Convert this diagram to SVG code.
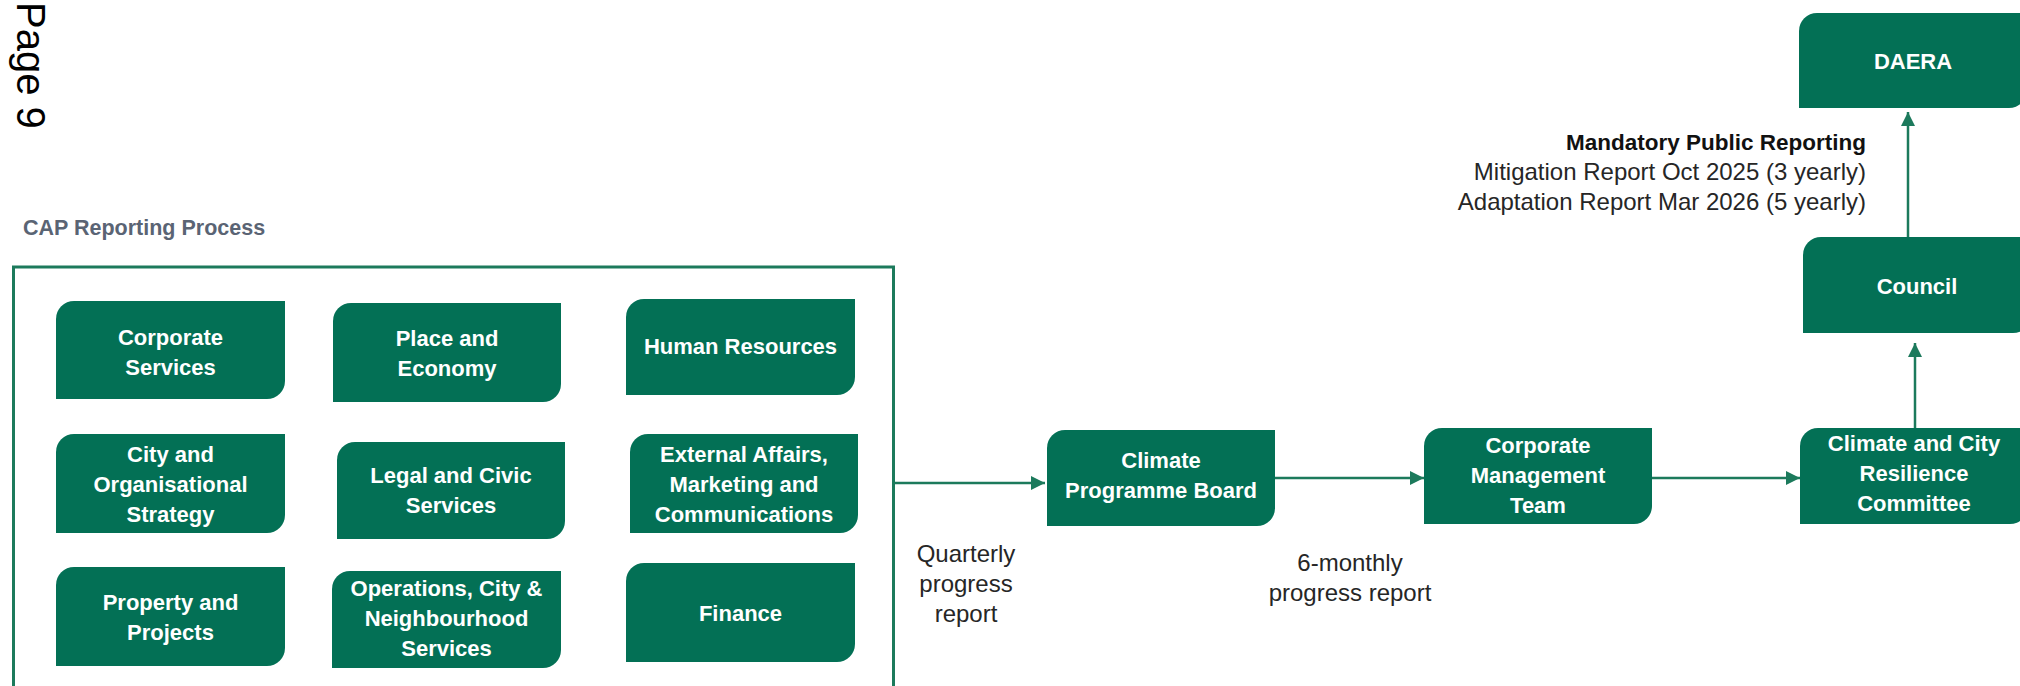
<svg xmlns="http://www.w3.org/2000/svg" width="2020" height="686" viewBox="0 0 2020 686">
<style>
.box{fill:#037055;}
.bt{font-family:"Liberation Sans",Arial,sans-serif;font-weight:bold;font-size:22px;fill:#ffffff;text-anchor:middle;}
.lbl{font-family:"Liberation Sans",Arial,sans-serif;font-size:24px;fill:#262626;text-anchor:middle;}
.conn{stroke:#1c7a5c;stroke-width:2.5;fill:none;}
</style>
<defs>
<marker id="arr" markerUnits="userSpaceOnUse" markerWidth="15" markerHeight="15" refX="14" refY="7" orient="auto">
<path d="M0,0 L14,7 L0,14 Z" fill="#1c7a5c"/>
</marker>
</defs>
<rect width="2020" height="686" fill="#ffffff"/>

<text id="page-number" transform="translate(17,2) rotate(90)" x="0" y="0" font-family="'Liberation Sans',Arial,sans-serif" font-size="40" fill="#000000">Page 9</text>

<text id="title" x="23" y="235" font-family="'Liberation Sans',Arial,sans-serif" font-size="21.5" font-weight="bold" fill="#5a6474">CAP Reporting Process</text>

<g id="cap-container">
<rect x="13.5" y="267" width="880" height="440" fill="none" stroke="#1c7a5c" stroke-width="3"/>
</g>

<g id="n-corporate-services">
<path class="box" d="M74,301 H285 V381 A18,18 0 0 1 267,399 H56 V319 A18,18 0 0 1 74,301 Z"/>
<text class="bt" x="170.5" y="345">Corporate</text>
<text class="bt" x="170.5" y="375">Services</text>
</g>
<g id="n-place-economy">
<path class="box" d="M351,303 H561 V384 A18,18 0 0 1 543,402 H333 V321 A18,18 0 0 1 351,303 Z"/>
<text class="bt" x="447" y="346">Place and</text>
<text class="bt" x="447" y="376">Economy</text>
</g>
<g id="n-human-resources">
<path class="box" d="M644,299 H855 V377 A18,18 0 0 1 837,395 H626 V317 A18,18 0 0 1 644,299 Z"/>
<text class="bt" x="740.5" y="354">Human Resources</text>
</g>

<g id="n-city-org-strategy">
<path class="box" d="M74,434 H285 V515 A18,18 0 0 1 267,533 H56 V452 A18,18 0 0 1 74,434 Z"/>
<text class="bt" x="170.5" y="462">City and</text>
<text class="bt" x="170.5" y="492">Organisational</text>
<text class="bt" x="170.5" y="522">Strategy</text>
</g>
<g id="n-legal-civic">
<path class="box" d="M355,442 H565 V521 A18,18 0 0 1 547,539 H337 V460 A18,18 0 0 1 355,442 Z"/>
<text class="bt" x="451" y="483">Legal and Civic</text>
<text class="bt" x="451" y="513">Services</text>
</g>
<g id="n-external-affairs">
<path class="box" d="M648,434 H858 V515 A18,18 0 0 1 840,533 H630 V452 A18,18 0 0 1 648,434 Z"/>
<text class="bt" x="744" y="462">External Affairs,</text>
<text class="bt" x="744" y="492">Marketing and</text>
<text class="bt" x="744" y="522">Communications</text>
</g>

<g id="n-property-projects">
<path class="box" d="M74,567 H285 V648 A18,18 0 0 1 267,666 H56 V585 A18,18 0 0 1 74,567 Z"/>
<text class="bt" x="170.5" y="610">Property and</text>
<text class="bt" x="170.5" y="640">Projects</text>
</g>
<g id="n-operations">
<path class="box" d="M350,571 H561 V650 A18,18 0 0 1 543,668 H332 V589 A18,18 0 0 1 350,571 Z"/>
<text class="bt" x="446.5" y="596">Operations, City &amp;</text>
<text class="bt" x="446.5" y="626">Neighbourhood</text>
<text class="bt" x="446.5" y="656">Services</text>
</g>
<g id="n-finance">
<path class="box" d="M644,563 H855 V644 A18,18 0 0 1 837,662 H626 V581 A18,18 0 0 1 644,563 Z"/>
<text class="bt" x="740.5" y="621">Finance</text>
</g>

<g id="n-climate-programme-board">
<path class="box" d="M1065,430 H1275 V508 A18,18 0 0 1 1257,526 H1047 V448 A18,18 0 0 1 1065,430 Z"/>
<text class="bt" x="1161" y="468">Climate</text>
<text class="bt" x="1161" y="498">Programme Board</text>
</g>
<g id="n-corporate-management-team">
<path class="box" d="M1442,428 H1652 V506 A18,18 0 0 1 1634,524 H1424 V446 A18,18 0 0 1 1442,428 Z"/>
<text class="bt" x="1538" y="453">Corporate</text>
<text class="bt" x="1538" y="483">Management</text>
<text class="bt" x="1538" y="513">Team</text>
</g>
<g id="n-climate-city-resilience">
<path class="box" d="M1818,428 H2028 V506 A18,18 0 0 1 2010,524 H1800 V446 A18,18 0 0 1 1818,428 Z"/>
<text class="bt" x="1914" y="451">Climate and City</text>
<text class="bt" x="1914" y="481">Resilience</text>
<text class="bt" x="1914" y="511">Committee</text>
</g>
<g id="n-council">
<path class="box" d="M1821,237 H2031 V315 A18,18 0 0 1 2013,333 H1803 V255 A18,18 0 0 1 1821,237 Z"/>
<text class="bt" x="1917" y="294">Council</text>
</g>
<g id="n-daera">
<path class="box" d="M1817,13 H2027 V90 A18,18 0 0 1 2009,108 H1799 V31 A18,18 0 0 1 1817,13 Z"/>
<text class="bt" x="1913" y="69">DAERA</text>
</g>

<g id="connectors">
<line class="conn" x1="894" y1="483" x2="1045" y2="483" marker-end="url(#arr)"/>
<line class="conn" x1="1275" y1="478" x2="1424" y2="478" marker-end="url(#arr)"/>
<line class="conn" x1="1652" y1="478" x2="1800" y2="478" marker-end="url(#arr)"/>
<line class="conn" x1="1915" y1="428" x2="1915" y2="343" marker-end="url(#arr)"/>
<line class="conn" x1="1908" y1="237" x2="1908" y2="112" marker-end="url(#arr)"/>
</g>

<g id="labels">
<text class="lbl" x="966" y="562">Quarterly</text>
<text class="lbl" x="966" y="592">progress</text>
<text class="lbl" x="966" y="622">report</text>
<text class="lbl" x="1350" y="571">6-monthly</text>
<text class="lbl" x="1350" y="601">progress report</text>
<text x="1866" y="150" font-family="'Liberation Sans',Arial,sans-serif" font-size="22.5" font-weight="bold" fill="#111111" text-anchor="end">Mandatory Public Reporting</text>
<text class="lbl" x="1866" y="180" text-anchor="end" style="text-anchor:end">Mitigation Report Oct 2025 (3 yearly)</text>
<text class="lbl" x="1866" y="210" text-anchor="end" style="text-anchor:end">Adaptation Report Mar 2026 (5 yearly)</text>
</g>
</svg>
